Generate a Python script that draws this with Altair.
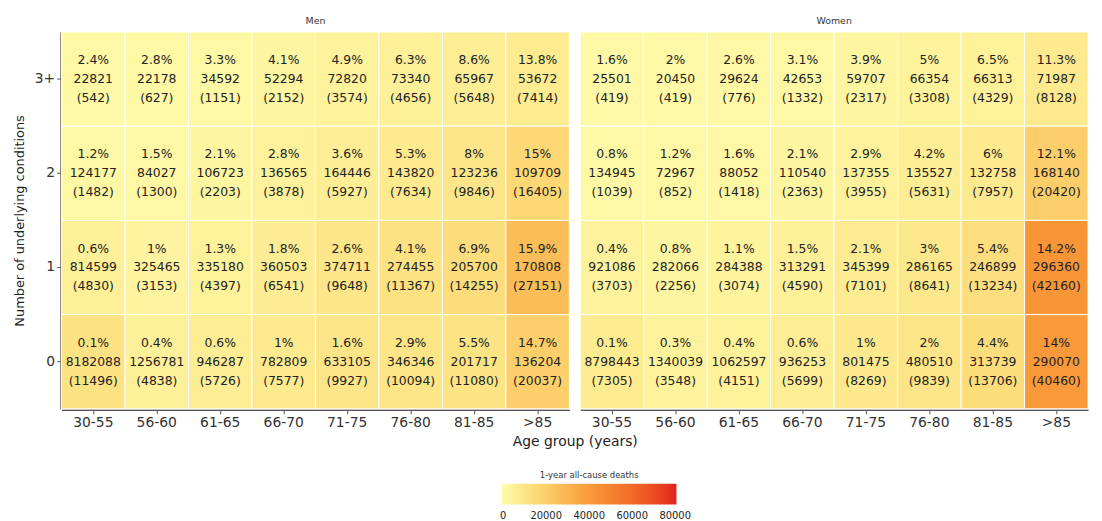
import altair as alt
import pandas as pd

ages = ["30-55", "56-60", "61-65", "66-70", "71-75", "76-80", "81-85", ">85"]
conds = ["3+", "2", "1", "0"]
sexes = ["Men", "Women"]

# Men: rows are conditions 3+, 2, 1, 0
men_pct = [
    [2.4, 2.8, 3.3, 4.1, 4.9, 6.3, 8.6, 13.8],
    [1.2, 1.5, 2.1, 2.8, 3.6, 5.3, 8, 15],
    [0.6, 1, 1.3, 1.8, 2.6, 4.1, 6.9, 15.9],
    [0.1, 0.4, 0.6, 1, 1.6, 2.9, 5.5, 14.7],
]
men_n = [
    [22821, 22178, 34592, 52294, 72820, 73340, 65967, 53672],
    [124177, 84027, 106723, 136565, 164446, 143820, 123236, 109709],
    [814599, 325465, 335180, 360503, 374711, 274455, 205700, 170808],
    [8182088, 1256781, 946287, 782809, 633105, 346346, 201717, 136204],
]
men_deaths = [
    [542, 627, 1151, 2152, 3574, 4656, 5648, 7414],
    [1482, 1300, 2203, 3878, 5927, 7634, 9846, 16405],
    [4830, 3153, 4397, 6541, 9648, 11367, 14255, 27151],
    [11496, 4838, 5726, 7577, 9927, 10094, 11080, 20037],
]

# Women
women_pct = [
    [1.6, 2, 2.6, 3.1, 3.9, 5, 6.5, 11.3],
    [0.8, 1.2, 1.6, 2.1, 2.9, 4.2, 6, 12.1],
    [0.4, 0.8, 1.1, 1.5, 2.1, 3, 5.4, 14.2],
    [0.1, 0.3, 0.4, 0.6, 1, 2, 4.4, 14],
]
women_n = [
    [25501, 20450, 29624, 42653, 59707, 66354, 66313, 71987],
    [134945, 72967, 88052, 110540, 137355, 135527, 132758, 168140],
    [921086, 282066, 284388, 313291, 345399, 286165, 246899, 296360],
    [8798443, 1340039, 1062597, 936253, 801475, 480510, 313739, 290070],
]
women_deaths = [
    [419, 419, 776, 1332, 2317, 3308, 4329, 8128],
    [1039, 852, 1418, 2363, 3955, 5631, 7957, 20420],
    [3703, 2256, 3074, 4590, 7101, 8641, 13234, 42160],
    [7305, 3548, 4151, 5699, 8269, 9839, 13706, 40460],
]

legend_ticks = [0, 20000, 40000, 60000, 80000]
color_domain = [-600, 20000, 40000, 60000, 80600]
legend_colors = ["#FFFBAA", "#FCCF6A", "#F99A3A", "#F26A28", "#E3201E"]

rows = []
for sex, P, N, D in [("Men", men_pct, men_n, men_deaths),
                     ("Women", women_pct, women_n, women_deaths)]:
    for i, c in enumerate(conds):
        for j, a in enumerate(ages):
            rows.append({
                "sex": sex, "cond": c, "age": a,
                "deaths": D[i][j],
                "pct_label": f"{P[i][j]:g}%",
                "n_label": str(N[i][j]),
                "d_label": f"({D[i][j]})",
            })
df = pd.DataFrame(rows)

FONT = "DejaVu Sans"
TXT = "#222222"

base = alt.Chart().encode(
    x=alt.X("age:N", sort=ages, title=None,
            axis=alt.Axis(labelAngle=0, labelFontSize=14,
                          labelColor="#333333",
                          domainColor="#555555", domainWidth=1.5,
                          tickColor="#555555", tickSize=4, labelPadding=2)),
    y=alt.Y("cond:N", sort=conds, title="Number of underlying conditions",
            axis=alt.Axis(labelFontSize=14, titleFontSize=13,
                          labelColor="#333333", titleColor="#222222",
                          domainColor="#555555", domainWidth=1.5,
                          tickColor="#555555", tickSize=4, labelPadding=2,
                          titlePadding=8, titleFontWeight="normal")),
)

rect = base.mark_rect(stroke="white", strokeWidth=1).encode(
    color=alt.Color(
        "deaths:Q",
        scale=alt.Scale(domain=color_domain, range=legend_colors),
        legend=alt.Legend(
            title="1-year all-cause deaths", orient="none",
            direction="horizontal", legendX=444, legendY=443,
            gradientLength=176, gradientThickness=21,
            titleFontSize=8.5, titleFontWeight="normal", titleColor="#333333",
            titleAnchor="middle", titleAlign="center", titlePadding=4,
            labelFontSize=10, labelColor="#222222", values=legend_ticks,
            format="d", labelOverlap=False, labelAlign="center",
            gradientStrokeWidth=0, labelOffset=7,
        ),
    )
)

t1 = base.mark_text(dy=-19, fontSize=12.5, font=FONT, color=TXT).encode(text="pct_label:N")
t2 = base.mark_text(dy=0, fontSize=12.5, font=FONT, color=TXT).encode(text="n_label:N")
t3 = base.mark_text(dy=19, fontSize=12.5, font=FONT, color=TXT).encode(text="d_label:N")

chart = alt.layer(rect, t1, t2, t3, data=df).properties(
    width=512, height=380
).facet(
    column=alt.Column("sex:N", sort=sexes, title="Age group (years)",
                      header=alt.Header(labelFontSize=9.5, labelColor="#333333",
                                        labelPadding=6, labelFont=FONT,
                                        labelOrient="top",
                                        titleOrient="bottom", titleFontSize=14,
                                        titleFontWeight="normal",
                                        titleColor="#222222", titleFont=FONT,
                                        titlePadding=-5)),
    spacing=9,
).configure(
    font=FONT,
).configure_view(
    stroke=None
)

chart.save("out.html", embed_options={"renderer": "svg", "actions": False})
